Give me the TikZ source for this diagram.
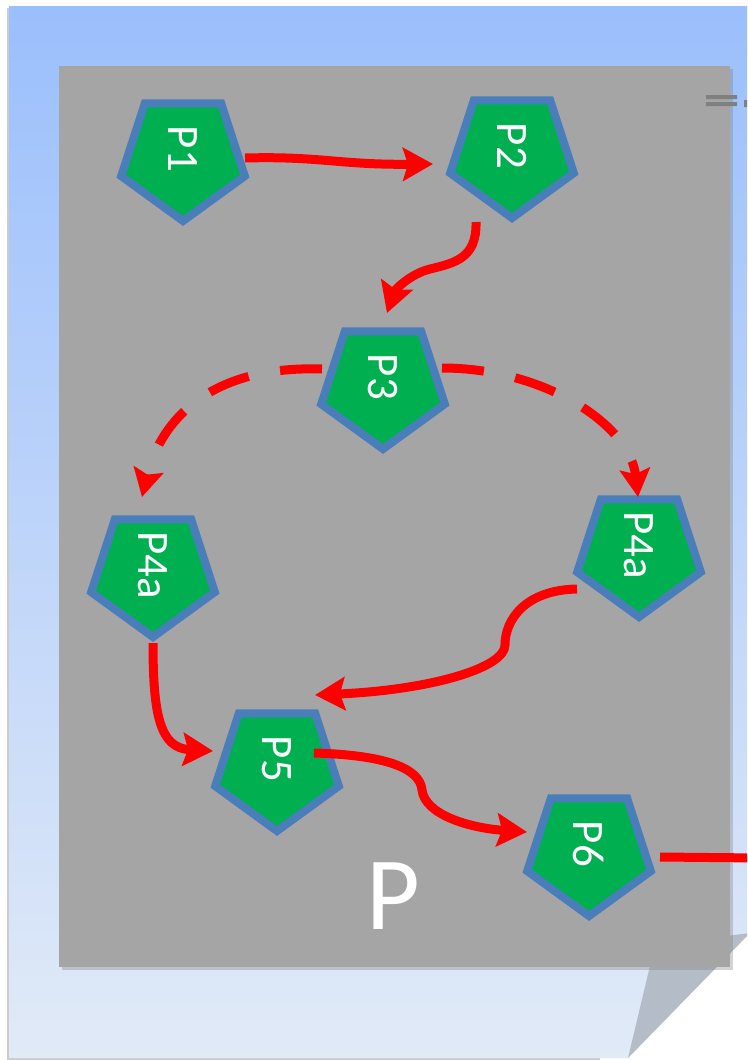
\documentclass[tikz,border=0pt]{standalone}
\usepackage{fontspec}
\setmainfont{Carlito}
\usepackage{tikz}
\usetikzlibrary{arrows.meta,calc,shapes.geometric,shadows}
\definecolor{pgreen}{HTML}{00B050}
\definecolor{pblue}{HTML}{4A7EBB}
\definecolor{pgrey}{HTML}{A5A5A5}
\definecolor{bgtop}{HTML}{9BBFFC}
\definecolor{bgbot}{HTML}{E1EAF7}
\definecolor{flapcol}{HTML}{B4BCC8}
\tikzset{
	proc/.style={regular polygon, regular polygon sides=5, shape border rotate=180,
		minimum size=130pt, inner sep=0pt, fill=pgreen, draw=pblue, line width=8pt,
		drop shadow={opacity=0.25, shadow xshift=2pt, shadow yshift=-3pt}},
	plab/.style={rotate=-90, text=white, inner sep=0pt, font=\fontsize{45}{45}\selectfont},
	wire/.style={draw=red, line width=9pt},
	flow/.style={wire, -{Stealth[length=30pt,width=33pt,inset=5pt]}},
	optflow/.style={wire, dash pattern=on 42pt off 32pt, -{Stealth[length=28pt,width=30pt,inset=5pt]}},
}
\begin{document}
\begin{tikzpicture}[x=1pt,y=-1pt]
		\useasboundingbox (0,0) rectangle (747,1060);
		\clip (0,0) rectangle (747,1060);
%		page with folded corner
		\fill[black!20] (7,8) rectangle (600,1060);
		\shade[top color=bgtop, bottom color=bgbot] (9,6) -- (760,6) -- (760,922) -- (628,1058) -- (9,1058) -- cycle;
		\fill[flapcol] (628,1058) -- (655,945) -- (750,933) -- cycle;
		\fill[pgrey, drop shadow={opacity=0.35, shadow xshift=3pt, shadow yshift=-3pt}] (59,66) rectangle (730,967);
		\fill[black!50] (706,95) rectangle (737,99) (706,102) rectangle (737,106) (744,100) rectangle (748,107);
%		
		\node[proc] (P1) at (183,156) {};
		\node[proc] (P2) at (512,153) {};
		\node[proc] (P3) at (383,384) {};
		\node[proc] (P4l) at (153,572) {};
		\node[proc] (P4r) at (639,552) {};
		\node[proc] (P5) at (277,766) {};
		\node[proc] (P6) at (589,851) {};
		\node[plab] (T1) at ($(P1)+(0,-7)$) {P1};
		\node[plab] (T2) at ($(P2)+(0,-7)$) {P2};
		\node[plab] (T3) at ($(P3)+(0,-7)$) {P3};
		\node[plab] (T4l) at ($(P4l)+(0,-7)$) {P4a};
		\node[plab] (T4r) at ($(P4r)+(0,-7)$) {P4a};
		\node[plab] (T5) at ($(P5)+(0,-7)$) {P5};
		\node[plab] (T6) at ($(P6)+(0,-7)$) {P6};
		\node[text=white, inner sep=0pt, font=\fontsize{104}{104}\selectfont] (P) at (393,896) {P};
		\coordinate (out) at (760,858);
%		
		\draw[flow] ($(P1)+(62,2)$) .. controls (320,156) and (340,165) .. ($(P2)+(-79,11)$);
		\draw[flow] ($(P2)+(-36,69)$) .. controls (477,258) and (455,263) .. (430,269)
			.. controls (410,274) and (395,290) .. ($(P3)+(4,-71)$);
		\draw[optflow] ($(P3)+(-61,-15)$) .. controls (200,365) and (158,430) .. ($(P4l)+(-11,-75)$);
		\draw[optflow] ($(P3)+(59,-16)$) .. controls (545,368) and (630,425) .. ($(P4r)+(-1,-55)$);
		\draw[flow] ($(P4r)+(-62,37)$) .. controls (525,590) and (505,620) .. (505,645)
			.. controls (505,668) and (430,690) .. ($(P5)+(38,-71)$);
		\draw[flow] ($(P4l)+(0,71)$) .. controls (153,715) and (160,748) .. ($(P5)+(-64,-15)$);
		\draw[flow] ($(P5)+(37,-13)$) .. controls (385,755) and (420,768) .. (422,790)
			.. controls (425,815) and (470,828) .. ($(P6)+(-62,-19)$);
		\draw[wire] ($(P6)+(71,6)$) -- (out);
	\end{tikzpicture}
\end{document}
